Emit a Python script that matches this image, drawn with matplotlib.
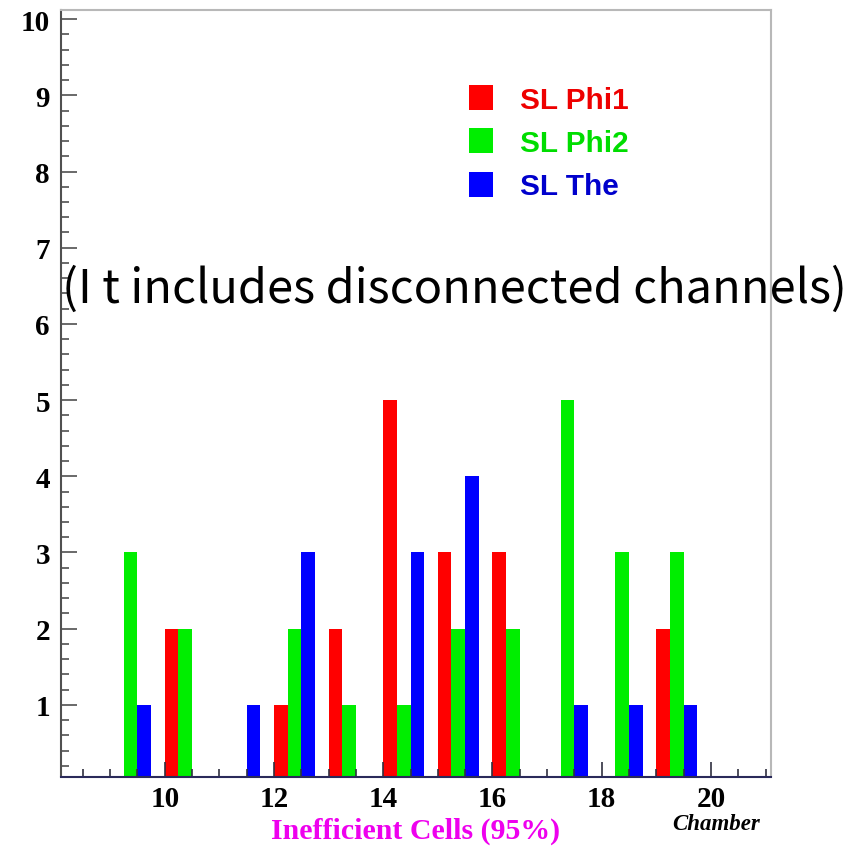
import matplotlib
matplotlib.use('Agg')
import matplotlib.pyplot as plt
import numpy as np
from matplotlib.ticker import MultipleLocator

# chamber numbers and counts of inefficient cells per super-layer
chambers = [9, 10, 11, 12, 13, 14, 15, 16, 17, 18, 19]
sl_phi1 = [0, 2, 0, 1, 2, 5, 3, 3, 0, 0, 2]
sl_phi2 = [3, 2, 0, 2, 1, 1, 2, 2, 5, 3, 3]
sl_the = [1, 0, 1, 3, 0, 3, 4, 0, 1, 1, 1]

labels = ['SL Phi1', 'SL Phi2', 'SL The']
colors = ['#ff0000', '#00ee00', '#0000ff']
text_colors = ['#ee0000', '#00dd00', '#0000cc']

W, H = 865, 854
fig = plt.figure(figsize=(W / 100, H / 100), dpi=100)
ax = fig.add_axes([61 / W, 1 - 777.5 / H, (771 - 61) / W, (777.5 - 11) / H])

x = np.array(chambers, dtype=float)
bw = 0.25
bars = []
for i, (vals, c) in enumerate(zip([sl_phi1, sl_phi2, sl_the], colors)):
    b = ax.bar(x + i * bw, vals, width=bw, align='edge', color=c, linewidth=0, zorder=1)
    bars.append(b)

ax.set_xlim(8.1, 21.1)
ax.set_ylim(0.06, 10.12)

serif = 'Liberation Serif'
ax.xaxis.set_minor_locator(MultipleLocator(0.5))
ax.yaxis.set_minor_locator(MultipleLocator(0.2))
ax.set_xticks(range(10, 21, 2))
ax.set_yticks(range(1, 11))

ax.tick_params(axis='x', which='major', direction='in', length=11, width=1.2, color='#303040', pad=6)
ax.tick_params(axis='x', which='minor', direction='in', length=5.5, width=1.2, color='#303040')
ax.tick_params(axis='y', which='major', direction='in', length=11.5, width=1.2, color='#505050', pad=8)
ax.tick_params(axis='y', which='minor', direction='in', length=5.5, width=1.2, color='#505050')
for lab in ax.get_xticklabels() + ax.get_yticklabels():
    lab.set_fontfamily(serif)
    lab.set_fontweight('bold')
    lab.set_fontsize(21)

ax.spines['left'].set_color('#505050')
ax.spines['left'].set_linewidth(1.5)
ax.spines['bottom'].set_color('#2a2a5a')
ax.spines['bottom'].set_linewidth(1.5)
ax.spines['top'].set_color('#b8b8b8')
ax.spines['right'].set_color('#b8b8b8')
ax.spines['top'].set_linewidth(1.5)
ax.spines['right'].set_linewidth(1.5)

leg = ax.legend(bars, labels, loc='upper left', bbox_to_anchor=(469 / W, 1 - 86 / H),
                bbox_transform=fig.transFigure, frameon=False,
                prop={'family': 'Liberation Sans', 'weight': 'bold', 'size': 21.4},
                handlelength=0.81, handleheight=0.9, handletextpad=0.9,
                labelspacing=0.5, borderpad=0, borderaxespad=0)
for t, c in zip(leg.get_texts(), text_colors):
    t.set_color(c)

fig.text(61.5 / W, 1 - 302.7 / H, '(I t includes disconnected channels)',
         family=['Noto Sans CJK JP', 'DejaVu Sans'], fontsize=33.8,
         ha='left', va='baseline', color='black')

fig.text(416 / W, 1 - 839 / H, 'Inefficient Cells (95%)', family=serif, weight='bold',
         fontsize=21.5, color='#ee00ee', ha='center', va='baseline')
fig.text(716 / W, 1 - 830 / H, 'Chamber', family=serif, weight='bold', style='italic',
         fontsize=16.5, color='black', ha='center', va='baseline')

fig.savefig('out.png', dpi=100)
